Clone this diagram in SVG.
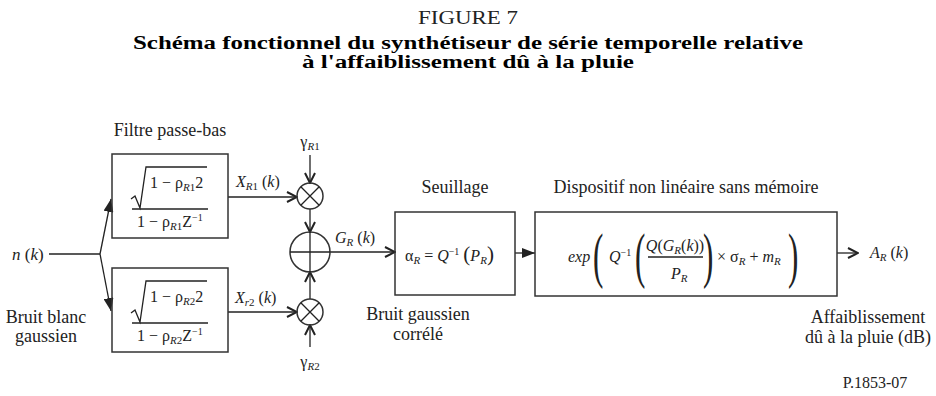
<svg xmlns="http://www.w3.org/2000/svg" width="936" height="396" viewBox="0 0 936 396" font-family="'Liberation Serif','Times New Roman',serif">
<style>
text{font-family:"Liberation Serif","Times New Roman",serif;fill:#222;}
.lbl{font-size:18px;}
.mid{text-anchor:middle;}
.it{font-style:italic;}
.math{font-size:16px;}
.title{font-size:18px;font-weight:bold;fill:#000;}
.box{fill:none;stroke:#333;stroke-width:1.5;}
.ln{fill:none;stroke:#222;stroke-width:1.3;}
.big{font-size:62px;}
</style>
<defs>
<marker id="chev" viewBox="0 0 12 12" refX="11" refY="6" markerWidth="12" markerHeight="12" markerUnits="userSpaceOnUse" orient="auto">
<path d="M1,1 L11,6 L1,11" fill="none" stroke="#222" stroke-width="2"/>
</marker>
<marker id="tri" viewBox="0 0 13 10" refX="13" refY="5" markerWidth="13" markerHeight="10" markerUnits="userSpaceOnUse" orient="auto">
<path d="M0,0 L13,5 L0,10 z" fill="#222"/>
</marker>
</defs>

<g id="title">
<text class="mid" x="468" y="24" style="font-size:18px" textLength="100" lengthAdjust="spacingAndGlyphs">FIGURE 7</text>
<text class="title mid" x="468" y="48.5" textLength="670" lengthAdjust="spacingAndGlyphs">Schéma fonctionnel du synthétiseur de série temporelle relative</text>
<text class="title mid" x="468" y="68" textLength="332" lengthAdjust="spacingAndGlyphs">à l'affaiblissement dû à la pluie</text>
</g>

<g id="connectors">
<path class="ln" d="M49,254 H100"/>
<path class="ln" d="M100,254 L111,199" marker-end="url(#tri)"/>
<path class="ln" d="M100,254 L111,311" marker-end="url(#tri)"/>
<path class="ln" d="M228,197 H297" marker-end="url(#chev)"/>
<path class="ln" d="M228,312 H297" marker-end="url(#chev)"/>
<path class="ln" d="M310,155 V183" marker-end="url(#chev)"/>
<path class="ln" d="M310,347 V325" marker-end="url(#chev)"/>
<path class="ln" d="M310,209 V232" marker-end="url(#chev)"/>
<path class="ln" d="M310,299 V272" marker-end="url(#chev)"/>
<path class="ln" d="M330,252 H395" marker-end="url(#chev)"/>
<path class="ln" d="M515,253 H535" marker-end="url(#tri)"/>
<path class="ln" d="M837,253 H858" marker-end="url(#chev)"/>
</g>

<g id="input">
<text class="lbl" x="12" y="260" style="font-size:17px"><tspan class="it">n</tspan> (<tspan class="it">k</tspan>)</text>
<text class="lbl mid" x="46" y="323">Bruit blanc</text>
<text class="lbl mid" x="46" y="342">gaussien</text>
</g>

<g id="filter1">
<text class="lbl mid" x="170" y="136">Filtre passe-bas</text>
<rect class="box" x="112" y="154" width="116" height="84"/>
<path class="ln" d="M131,199 L135,196 L140,208 L146,167 H207"/>
<text class="math" x="150" y="188">1 − ρ<tspan class="it" font-size="11" dy="3">R</tspan><tspan font-size="11">1</tspan><tspan dy="-3">2</tspan></text>
<path class="ln" d="M132,209 H208"/>
<text class="math" x="137" y="227">1 − ρ<tspan class="it" font-size="11" dy="3">R</tspan><tspan font-size="11">1</tspan><tspan dy="-3">Z</tspan><tspan font-size="10" dy="-6">−1</tspan></text>
</g>

<g id="filter2">
<rect class="box" x="112" y="268" width="116" height="84"/>
<path class="ln" d="M131,313 L135,310 L140,322 L146,281 H207"/>
<text class="math" x="150" y="302">1 − ρ<tspan class="it" font-size="11" dy="3">R</tspan><tspan font-size="11">2</tspan><tspan dy="-3">2</tspan></text>
<path class="ln" d="M132,323 H208"/>
<text class="math" x="137" y="341">1 − ρ<tspan class="it" font-size="11" dy="3">R</tspan><tspan font-size="11">2</tspan><tspan dy="-3">Z</tspan><tspan font-size="10" dy="-6">−1</tspan></text>
</g>

<g id="xlabels">
<text class="math" x="236" y="187"><tspan class="it">X</tspan><tspan class="it" font-size="11" dy="3">R</tspan><tspan font-size="11">1</tspan><tspan dy="-3"> (</tspan><tspan class="it">k</tspan>)</text>
<text class="math" x="235" y="303"><tspan class="it">X</tspan><tspan class="it" font-size="11" dy="3">r</tspan><tspan font-size="11">2</tspan><tspan dy="-3"> (</tspan><tspan class="it">k</tspan>)</text>
</g>

<g id="mult1">
<text class="math mid" x="310" y="147">γ<tspan class="it" font-size="11" dy="3">R</tspan><tspan font-size="11">1</tspan></text>
<circle class="box" cx="310" cy="196" r="13"/>
<path class="ln" d="M300.8,186.8 L319.2,205.2 M319.2,186.8 L300.8,205.2"/>
</g>

<g id="mult2">
<circle class="box" cx="310" cy="312" r="13"/>
<path class="ln" d="M300.8,302.8 L319.2,321.2 M319.2,302.8 L300.8,321.2"/>
<text class="math mid" x="310" y="367">γ<tspan class="it" font-size="11" dy="3">R</tspan><tspan font-size="11">2</tspan></text>
</g>

<g id="sum">
<circle class="box" cx="310" cy="252" r="20"/>
<path class="ln" d="M290,252 H330 M310,232 V272"/>
<text class="math" x="335" y="243"><tspan class="it">G</tspan><tspan class="it" font-size="11" dy="3">R</tspan><tspan dy="-3"> (</tspan><tspan class="it">k</tspan>)</text>
<text class="lbl mid" x="418" y="320">Bruit gaussien</text>
<text class="lbl mid" x="418" y="340">corrélé</text>
</g>

<g id="seuillage">
<text class="lbl mid" x="455" y="193">Seuillage</text>
<rect class="box" x="395" y="212" width="120" height="83"/>
<text class="math" x="405" y="261">α<tspan class="it" font-size="11" dy="3">R</tspan><tspan dy="-3"> = </tspan><tspan class="it">Q</tspan><tspan font-size="10" dy="-6">−1</tspan><tspan dy="6"> </tspan><tspan font-size="21">(</tspan><tspan class="it">P</tspan><tspan class="it" font-size="11" dy="3">R</tspan><tspan font-size="21" dy="-3">)</tspan></text>
</g>

<g id="nonlinear">
<text class="lbl mid" x="686" y="193">Dispositif non linéaire sans mémoire</text>
<rect class="box" x="535" y="212" width="302" height="84"/>
<text class="math it" x="568" y="262">exp</text>
<text class="big" transform="translate(593,276) scale(0.5,1)">(</text>
<text class="math" x="609" y="262"><tspan class="it">Q</tspan><tspan font-size="10" dy="-6">−1</tspan></text>
<text class="big" transform="translate(635,276) scale(0.5,1)">(</text>
<text class="math mid" x="675" y="251"><tspan class="it">Q</tspan>(<tspan class="it">G</tspan><tspan class="it" font-size="11" dy="3">R</tspan><tspan dy="-3">(</tspan><tspan class="it">k</tspan>))</text>
<path class="ln" d="M648,257 H703"/>
<text class="math" x="671" y="279"><tspan class="it">P</tspan><tspan class="it" font-size="11" dy="3">R</tspan></text>
<text class="big" transform="translate(703,276) scale(0.5,1)">)</text>
<text class="math" x="717" y="262">× σ<tspan class="it" font-size="11" dy="3">R</tspan><tspan dy="-3"> + </tspan><tspan class="it">m</tspan><tspan class="it" font-size="11" dy="3">R</tspan></text>
<text class="big" transform="translate(788,276) scale(0.5,1)">)</text>
</g>

<g id="output">
<text class="math" x="870" y="258"><tspan class="it">A</tspan><tspan class="it" font-size="11" dy="3">R</tspan><tspan dy="-3"> (</tspan><tspan class="it">k</tspan>)</text>
<text class="lbl mid" x="868" y="323">Affaiblissement</text>
<text class="lbl mid" x="868" y="343">dû à la pluie (dB)</text>
<text class="mid" x="875" y="388" style="font-size:16px">P.1853-07</text>
</g>
</svg>
